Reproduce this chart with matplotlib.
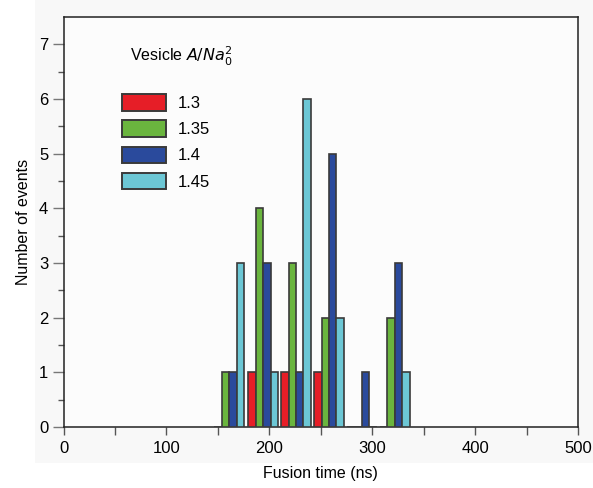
import matplotlib
matplotlib.use("Agg")
import matplotlib.pyplot as plt
from matplotlib.patches import Patch, Rectangle
from matplotlib.ticker import FixedLocator
import numpy as np

plt.rcParams['font.family'] = ['Liberation Sans Narrow', 'Liberation Sans', 'DejaVu Sans']

# Data
bin_centers = [161, 194, 226, 258, 290, 322]   # fusion time (ns)
series_labels = ['1.3', '1.35', '1.4', '1.45']
counts_13  = [0, 1, 1, 1, 0, 0]
counts_135 = [1, 4, 3, 2, 0, 2]
counts_14  = [1, 3, 1, 5, 1, 3]
counts_145 = [3, 1, 6, 2, 0, 1]
colors = ['#e61e27', '#6ab53e', '#2a4a9c', '#6cc7d5']

x_ticks = [0, 100, 200, 300, 400, 500]
y_ticks = [0, 1, 2, 3, 4, 5, 6, 7]

fig = plt.figure(figsize=(5.93, 4.88), dpi=100)
fig.patch.set_facecolor('white')
# light grey panel behind the plot
bg = Rectangle((35/593, 1-463/488), 1-35/593, 463/488,
               transform=fig.transFigure, facecolor='#f8f8f8',
               edgecolor='none', zorder=-10)
fig.patches.append(bg)

ax = fig.add_axes([63.5/593, 1-427/488, (578-63.5)/593, (427-17)/488])
ax.set_zorder(1)
ax.set_facecolor('#fcfcfc')

bw = 7.2
all_counts = [counts_13, counts_135, counts_14, counts_145]
offsets = (np.arange(4) - 1.5) * bw
handles = []
for cnt, off, col, lab in zip(all_counts, offsets, colors, series_labels):
    xs = np.array(bin_centers) + off
    ax.bar(xs, cnt, width=bw, color=col, edgecolor='#3a3a3a', linewidth=1.2,
           zorder=3)
    handles.append(Patch(facecolor=col, edgecolor='#3a3a3a', linewidth=1.4, label=lab))

ax.set_xlim(0, 500)
ax.set_ylim(0, 7.5)
ax.set_xticks(np.arange(0, 501, 50))
ax.set_xticklabels([str(v) if v in x_ticks else '' for v in range(0, 501, 50)])
ax.set_yticks(y_ticks)
ax.yaxis.set_minor_locator(FixedLocator(np.arange(0.5, 7.5, 1.0)))
ax.tick_params(axis='x', direction='out', length=6, width=1, color='#555555',
               labelsize=12, pad=4)
ax.tick_params(axis='y', which='major', direction='out', length=8, width=1,
               color='#777777', labelsize=12, pad=3)
ax.tick_params(axis='y', which='minor', direction='out', length=4, width=1,
               color='#555555')
for s in ax.spines.values():
    s.set_color('#222222')
    s.set_linewidth(1.1)

ax.set_xlabel('Fusion time (ns)', fontsize=11.5, labelpad=7)
ax.set_ylabel('Number of events', fontsize=11.5, labelpad=6)

ax.text(130/593, 1-56/488, r'Vesicle $A/Na_0^2$', transform=fig.transFigure,
        fontsize=11.5, va='center', ha='left')

leg = ax.legend(handles=handles, loc='upper left',
                bbox_to_anchor=(119/593, 1-91/488), bbox_transform=fig.transFigure,
                frameon=False, fontsize=12, handlelength=2.6, handleheight=1.15,
                labelspacing=0.55, handletextpad=0.75, borderaxespad=0,
                borderpad=0.2)

fig.savefig('out.png', dpi=100, facecolor=fig.get_facecolor())
